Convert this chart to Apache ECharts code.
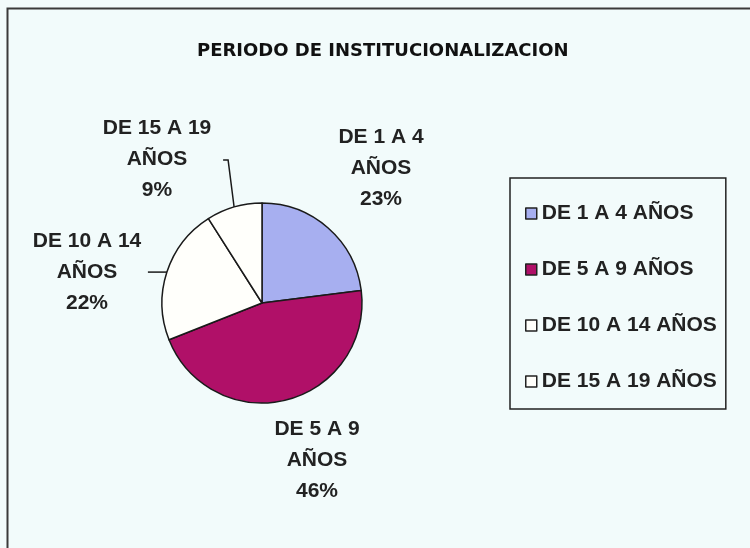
<!DOCTYPE html>
<html>
<head>
<meta charset="utf-8">
<script src="https://cdn.jsdelivr.net/npm/echarts@6/dist/echarts.min.js"></script>
<style>
  html, body { margin: 0; padding: 0; background: #f2fbfb; }
  #chart { width: 750px; height: 548px; }
</style>
</head>
<body>
<div id="chart"></div>
<script>
// data
const categories = ["DE 1 A 4 AÑOS", "DE 5 A 9 AÑOS", "DE 10 A 14 AÑOS", "DE 15 A 19 AÑOS"];
const percents = [23, 46, 22, 9];
const sliceColors = ["#a7aff0", "#b01068", "#fffffb", "#fffffb"];

// where each slice label sits (centre of the text block)
const labelPos = [[381, 168], [317, 460], [87, 272], [157, 159]];

const chart = echarts.init(document.getElementById("chart"));

const pieData = categories.map((name, i) => ({
  name: name,
  value: percents[i],
  itemStyle: { color: sliceColors[i] },
  labelLine: { show: i >= 2 }
}));

chart.setOption({
  backgroundColor: "#f2fbfb",
  animation: false,
  title: {
    text: "PERIODO DE INSTITUCIONALIZACION",
    left: 192,
    top: 37,
    textStyle: {
      fontFamily: "DejaVu Sans",
      fontWeight: 900,
      fontSize: 18,
      color: "#111"
    }
  },
  legend: {
    orient: "vertical",
    left: 510,
    top: 178,
    padding: [25, 9, 17, 15],
    itemGap: 35,
    itemWidth: 11,
    itemHeight: 11,
    itemTextGap: 2,
    icon: "rect",
    borderColor: "#222",
    borderWidth: 1.5,
    itemStyle: { borderColor: "#222", borderWidth: 1.5 },
    textStyle: {
      fontFamily: "Liberation Sans",
      fontWeight: "bold",
      fontSize: 21,
      lineHeight: 20,
      color: "#222"
    },
    data: categories
  },
  graphic: [{
    type: "rect",
    left: 5,
    top: 6,
    shape: { width: 800, height: 600 },
    style: { fill: "none", stroke: "#3a3a3a", lineWidth: 2 },
    silent: true
  }],
  series: [{
    type: "pie",
    center: [262, 303],
    radius: 100,
    startAngle: 90,
    clockwise: true,
    avoidLabelOverlap: false,
    itemStyle: { borderColor: "#1a1a1a", borderWidth: 1.5 },
    label: {
      show: true,
      position: "outside",
      formatter: (p) => {
        const range = p.name.replace(" AÑOS", "");
        return "{c|" + range + "}\n{c|AÑOS}\n{c|" + Math.round(p.percent) + "%}";
      },
      rich: {
        c: {
          align: "center",
          fontFamily: "Liberation Sans",
          fontWeight: "bold",
          fontSize: 21,
          lineHeight: 31,
          color: "#222"
        }
      }
    },
    labelLine: {
      show: true,
      length: 10,
      length2: 10,
      lineStyle: { color: "#1a1a1a", width: 1.5 }
    },
    labelLayout: (params) => {
      const i = params.dataIndex;
      const out = { x: labelPos[i][0], y: labelPos[i][1], align: "center", verticalAlign: "middle" };
      const pts = params.labelLinePoints;
      if (pts && i === 3) {
        const p0 = pts[0];
        out.labelLinePoints = [p0, [p0[0] - 6, 160], [p0[0] - 11, 160]];
      } else if (pts && i === 2) {
        const p0 = pts[0];
        out.labelLinePoints = [p0, [p0[0] - 10, p0[1]], [p0[0] - 19, p0[1]]];
      }
      return out;
    },
    data: pieData
  }]
});
</script>
</body>
</html>
